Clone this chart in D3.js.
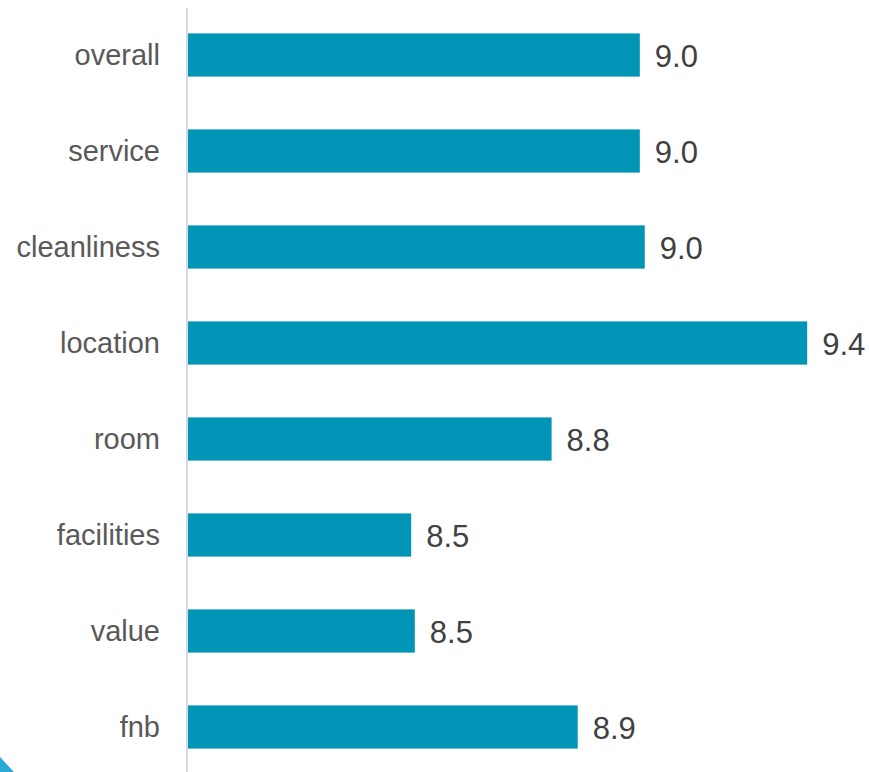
<!DOCTYPE html>
<html>
<head>
<meta charset="utf-8">
<script src="https://cdn.jsdelivr.net/npm/d3@7"></script>
<style>
  body { margin: 0; background: #fff; }
  svg { display: block; font-family: "Liberation Sans", Arial, sans-serif; }
</style>
</head>
<body>
<svg id="chart"></svg>
<script>
const categories = ['overall', 'service', 'cleanliness', 'location', 'room', 'facilities', 'value', 'fnb'];
const scores = [9.004, 9.004, 9.015, 9.376, 8.808, 8.496, 8.504, 8.866];
const labels = ['9.0', '9.0', '9.0', '9.4', '8.8', '8.5', '8.5', '8.9'];

(function(){
  let width = 869, height = 772;
  let svg = d3.select('#chart').attr('width', width).attr('height', height);

  let x = d3.scaleLinear().domain([8, 9.5]).range([188, 863]);
  let y = d3.scaleBand().domain(categories).range([7, 775]).paddingInner(0.55).paddingOuter(0.275);

  // corner decoration
  svg.append('path')
      .attr('d', 'M0,757 L14,772 L0,772 Z')
      .attr('fill', '#29a9d8');

  svg.selectAll('rect.bar')
    .data(categories)
    .enter().append('rect')
      .attr('class', 'bar')
      .attr('x', x(8))
      .attr('y', d => y(d))
      .attr('width', (d, i) => x(scores[i]) - x(8))
      .attr('height', y.bandwidth())
      .attr('fill', '#0095b6');

  svg.selectAll('text.val')
    .data(categories)
    .enter().append('text')
      .attr('class', 'val')
      .attr('x', (d, i) => x(scores[i]) + 15)
      .attr('y', d => y(d) + y.bandwidth() / 2)
      .attr('dy', '0.38em')
      .attr('font-size', 31)
      .attr('fill', '#404040')
      .text((d, i) => labels[i]);

  svg.selectAll('text.cat')
    .data(categories)
    .enter().append('text')
      .attr('class', 'cat')
      .attr('x', 160)
      .attr('y', d => y(d) + y.bandwidth() / 2)
      .attr('dy', '0.36em')
      .attr('text-anchor', 'end')
      .attr('font-size', 29)
      .attr('fill', '#595959')
      .text(d => d);

  // vertical axis line
  svg.append('line')
      .attr('x1', 187).attr('x2', 187)
      .attr('y1', 8).attr('y2', height)
      .attr('stroke', '#d9d9d9')
      .attr('stroke-width', 2);
})();
</script>
</body>
</html>
